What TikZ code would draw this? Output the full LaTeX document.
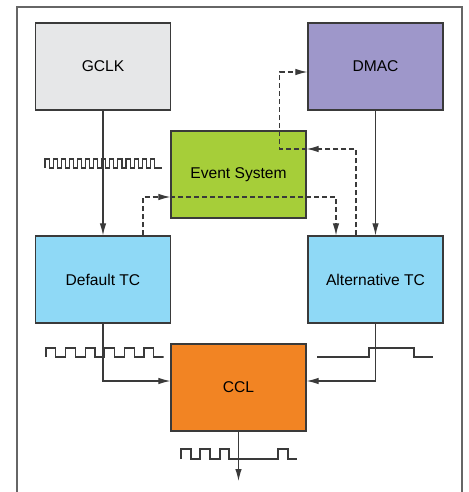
\documentclass[tikz,border=0pt]{standalone}
\usepackage{fontspec}
\setmainfont{Liberation Sans}
\usetikzlibrary{arrows.meta}
\definecolor{gclkc}{HTML}{E6E7E8}
\definecolor{dmacc}{HTML}{9E97CA}
\definecolor{esc}{HTML}{A6CE39}
\definecolor{tcc}{HTML}{8FD9F6}
\definecolor{cclc}{HTML}{F28423}
\definecolor{linec}{HTML}{3A3A3A}
\tikzset{
  blk/.style={draw=linec, line width=1.2pt, minimum width=135pt, minimum height=87pt, inner sep=0pt, font=\fontsize{15.6}{18}\selectfont},
  arr/.style={draw=linec, line width=1.1pt, -{Latex[length=12pt,width=6.5pt]}},
  dsh/.style={dash pattern=on 5pt off 3pt},
  wave/.style={draw=linec, line width=1.1pt}
}
\begin{document}
\begin{tikzpicture}[x=1pt,y=-1pt]
\useasboundingbox (0,0) rectangle (468,492);
\fill[white] (0,0) rectangle (468,492);
% outer frame
\draw[gray!80!black, line width=1.2pt] (17,493) -- (17,7) -- (462,7) -- (462,493);
% blocks
\node[blk, fill=gclkc] (gclk) at (103,66.5) {GCLK};
\node[blk, fill=dmacc] (dmac) at (375.5,66.5) {DMAC};
\node[blk, fill=esc] (es) at (238.5,174.5) {Event System};
\node[blk, fill=tcc] (dtc) at (103,279.5) {Default TC};
\node[blk, fill=tcc] (atc) at (375.5,279.5) {Alternative TC};
\node[blk, fill=cclc] (ccl) at (238.5,387.5) {CCL};
\coordinate (out) at (238.5,481);
% solid connectors
\draw[arr] (gclk) -- (dtc);
\draw[arr] (dmac) -- (atc);
\draw[arr] (dtc.south) |- ([yshift=6.5pt]ccl.west);
\draw[arr] (atc.south) |- ([yshift=6.5pt]ccl.east);
\draw[arr] (ccl) -- (out);
% dashed connectors
\draw[arr, dsh] ([xshift=40pt]dtc.north) |- ([yshift=-22.5pt]es.west);
\draw[arr, dsh] ([yshift=-22.5pt]es.west) -| ([xshift=-39.5pt]atc.north);
\draw[arr, dsh] ([xshift=-19.5pt]atc.north) |- ([yshift=25.5pt]es.east);
\draw[arr, dsh] ([yshift=25.5pt]es.east) -- ++(-27,0) |- ([yshift=-5.5pt]dmac.west);
% clock waveform under GCLK
\draw[wave] (45,168)
  \foreach \i in {0,...,13} { -- ++(0,-9) -- ++(4.05,0) -- ++(0,9) -- ++(4.05,0) } -- (162,168);
% Default TC waveform
\draw[wave] (46,357)
  \foreach \i in {0,...,5} { -- ++(0,-9) -- ++(9.8,0) -- ++(0,9) -- ++(9.8,0) } -- (162,357);
% Alternative TC waveform
\draw[wave] (317,357) -- (369,357) -- (369,348) -- (414,348) -- (414,357) -- (433,357);
% CCL output waveform
\draw[wave] (181,459) -- (181,449) -- (191,449) -- (191,459) -- (200,459) -- (200,449) -- (210,449) -- (210,459)
  -- (220,459) -- (220,449) -- (229,449) -- (229,459) -- (278,459) -- (278,449) -- (288,449) -- (288,459) -- (297,459);
\end{tikzpicture}
\end{document}
